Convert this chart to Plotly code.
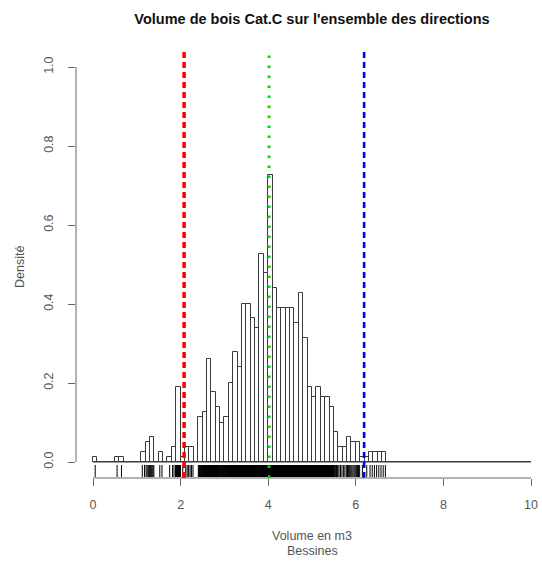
import plotly.graph_objects as go

# ---------------- data ----------------
bin_width = 0.1
n_bins = 100                      # breaks from 0 to 10 by 0.1
# densities for bins [0.0,0.1), [0.1,0.2), ... up to [6.6,6.7); remaining bins are empty
density_read = [
    0.013, 0, 0, 0, 0, 0.013, 0.013, 0, 0, 0,
    0, 0.025, 0.051, 0.063, 0, 0.025, 0, 0.013, 0.038, 0.19,
    0.013, 0.038, 0.038, 0, 0.113, 0.126, 0.262, 0.176, 0.138, 0.10,
    0.113, 0.20, 0.278, 0.24, 0.40, 0.40, 0.364, 0.338, 0.527, 0.478,
    0.727, 0.44, 0.389, 0.389, 0.389, 0.389, 0.351, 0.427, 0.313, 0.189,
    0.164, 0.189, 0.164, 0.164, 0.138, 0.075, 0.039, 0.039, 0.063, 0.05,
    0.05, 0.013, 0.013, 0.025, 0.025, 0.025, 0.025,
]
density = density_read + [0] * (n_bins - len(density_read))
n_obs = 794                       # observations (1 obs = 1/(n*0.1) density)

ref_values = [2.08, 4.02, 6.19]   # low quantile, mean, high quantile
ref_colors = ["#ff0000", "#00e000", "#0000ff"]
ref_dash = ["6px,4px", "2.5px,7.5px", "6px,4px"]
ref_widths = [3.5, 3, 2.6]

x_ticks = [0, 2, 4, 6, 8, 10]
y_ticks = [0.0, 0.2, 0.4, 0.6, 0.8, 1.0]
y_ticktext = ["0.0", "0.2", "0.4", "0.6", "0.8", "1.0"]

title = "Volume de bois Cat.C sur l'ensemble des directions"
xlab1 = "Volume en m3"
xlab2 = "Bessines"
ylab = "Densité"

# ---------------- derived ----------------
bin_lefts = [i * bin_width for i in range(n_bins)]
bin_centers = [b + bin_width / 2 for b in bin_lefts]

# rug: observations of each bin spread across the bin
rug_x, rug_y = [], []
Y_RUG_LO, Y_RUG_HI = -0.038, -0.0076
for lo, d in zip(bin_lefts, density):
    c = int(round(d * n_obs * bin_width))
    for k in range(c):
        v = lo + (k + 0.5) * bin_width / c
        rug_x += [v, v, None]
        rug_y += [Y_RUG_LO, Y_RUG_HI, None]

FONT = "Liberation Sans, Arial, Helvetica, sans-serif"
TXT = "#555555"
LINE = "#666666"

fig = go.Figure()
fig.add_trace(go.Bar(
    x=bin_centers, y=density, width=bin_width,
    marker=dict(color="white", line=dict(color="#3a3a3a", width=1)),
    showlegend=False, hoverinfo="skip",
))
# baseline of the (empty) bins from first to last break
fig.add_trace(go.Scatter(
    x=[bin_lefts[0], bin_lefts[-1] + bin_width], y=[0, 0], mode="lines",
    line=dict(color="#3a3a3a", width=1), showlegend=False, hoverinfo="skip",
))
fig.add_trace(go.Scatter(
    x=rug_x, y=rug_y, mode="lines",
    line=dict(color="black", width=1), showlegend=False, hoverinfo="skip",
))
Y_LO, Y_HI = -0.0405, 1.0405
for v, c, dsh, w in zip(ref_values, ref_colors, ref_dash, ref_widths):
    fig.add_trace(go.Scatter(
        x=[v, v], y=[Y_LO, Y_HI], mode="lines",
        line=dict(color=c, width=w, dash=dsh), showlegend=False, hoverinfo="skip",
    ))

W, H = 542, 569
L, R, T = 76, 0, 51
B = H - 478
plot_w = W - L - R
plot_h = H - T - B

# axis lines spanning only the tick range (R style)
shapes = [
    dict(type="line", xref="paper", yref="y", x0=0, x1=0,
         y0=y_ticks[0], y1=y_ticks[-1], line=dict(color=LINE, width=1)),
    dict(type="line", xref="x", yref="paper", x0=x_ticks[0], x1=x_ticks[-1],
         y0=0, y1=0, line=dict(color=LINE, width=1)),
]

cx = (312 - L) / plot_w
annotations = [
    dict(text=xlab1, xref="paper", yref="paper", x=cx, y=(478 - 536) / plot_h,
         showarrow=False, xanchor="center", yanchor="middle",
         font=dict(family=FONT, size=12.5, color=TXT)),
    dict(text=xlab2, xref="paper", yref="paper", x=cx, y=(478 - 551) / plot_h,
         showarrow=False, xanchor="center", yanchor="middle",
         font=dict(family=FONT, size=12.5, color=TXT)),
    dict(text=ylab, xref="paper", yref="paper", x=(20 - L) / plot_w,
         y=(478 - 267) / plot_h, textangle=-90,
         showarrow=False, xanchor="center", yanchor="middle",
         font=dict(family=FONT, size=12.5, color=TXT)),
]

fig.update_layout(
    width=W, height=H,
    margin=dict(l=L, r=R, t=T, b=B, pad=0),
    paper_bgcolor="white", plot_bgcolor="white",
    title=dict(text="<b>" + title + "</b>", x=cx, xref="paper", xanchor="center",
               y=1 - 19 / H, yref="container", yanchor="middle",
               font=dict(family=FONT, size=14.5, color="#111111")),
    xaxis=dict(range=[-(93 - L) / 43.8, -(93 - L) / 43.8 + plot_w / 43.8],
               tickvals=x_ticks, ticktext=[str(t) for t in x_ticks],
               ticks="outside", ticklen=7, tickcolor=LINE, tickwidth=1,
               showline=False, showgrid=False, zeroline=False,
               ticklabelstandoff=8,
               tickfont=dict(family=FONT, size=12.5, color=TXT)),
    yaxis=dict(range=[Y_LO, Y_HI], tickvals=y_ticks, ticktext=y_ticktext,
               tickangle=-90,
               ticks="outside", ticklen=7, tickcolor=LINE, tickwidth=1,
               showline=False, showgrid=False, zeroline=False,
               ticklabelstandoff=10,
               tickfont=dict(family=FONT, size=12.5, color=TXT)),
    shapes=shapes, annotations=annotations,
    bargap=0,
)
fig.write_html("out.html")
